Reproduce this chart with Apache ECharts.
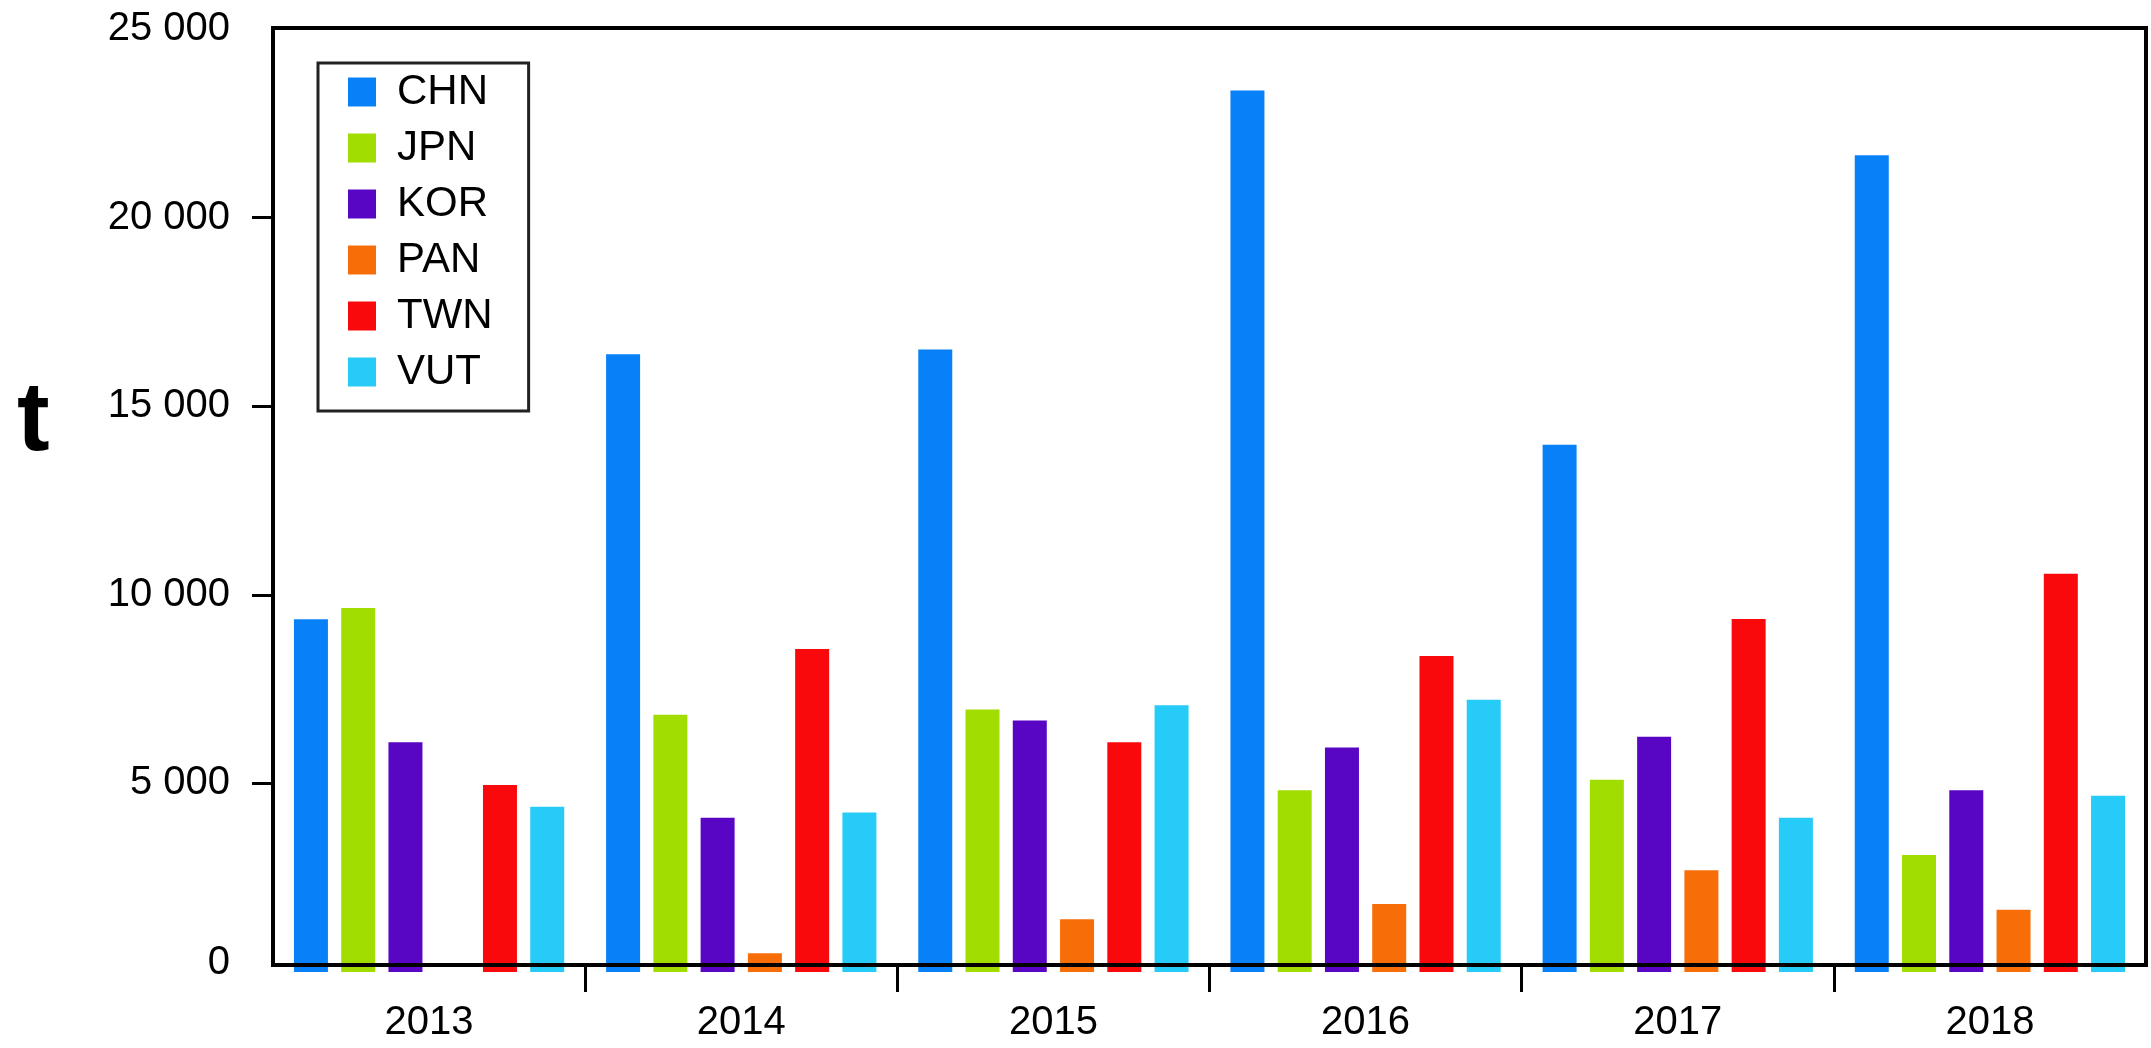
<!DOCTYPE html>
<html>
<head>
<meta charset="utf-8">
<script src="https://cdn.jsdelivr.net/npm/echarts@6/dist/echarts.min.js"></script>
<style>
  html, body { margin: 0; padding: 0; background: #fff; }
  #chart { width: 2151px; height: 1048px; }
</style>
</head>
<body>
<div id="chart"></div>
<script>
'use strict';

const years = ['2013', '2014', '2015', '2016', '2017', '2018'];
const chn = [9350, 16380, 16500, 23370, 13980, 21650];
const jpn = [9650, 6820, 6960, 4820, 5100, 3100];
const kor = [6090, 4090, 6670, 5950, 6240, 4820];
const pan = [0, 500, 1400, 1800, 2700, 1650];
const twn = [4960, 8560, 6090, 8380, 9360, 10560];
const vut = [4380, 4230, 7070, 7220, 4090, 4670];
const yTicks = [0, 5000, 10000, 15000, 20000, 25000];
const yearEdges = [1, 2, 3, 4, 5];

const font = 'Liberation Sans, Arial, sans-serif';

function spaced(v) {
    const s = String(v).replace(/\B(?=(\d{3})+(?!\d))/g, ' ');
    // the zero label sits a little above the real zero in the original
    return v === 0 ? '{z|' + s + '}' : s;
}

function bar(name, data, color) {
    return {
        name: name,
        type: 'bar',
        data: data,
        barWidth: 34,
        barGap: '39%',
        itemStyle: { color: color },
        emphasis: { disabled: true }
    };
}

const chartDom = document.getElementById('chart');
const myChart = echarts.init(chartDom);

const option = {
    animation: false,
    backgroundColor: '#fff',
    title: {
        text: 't',
        left: 12,
        top: 369,
        textStyle: { fontSize: 98, fontWeight: 'bold', color: '#000', fontFamily: font }
    },
    legend: {
        orient: 'vertical',
        left: 318,
        top: 63,
        padding: [8, 36, 18, 30],
        itemWidth: 28,
        itemHeight: 29,
        itemGap: 14,
        icon: 'rect',
        selectedMode: false,
        borderColor: '#222',
        borderWidth: 3,
        textStyle: { fontSize: 42, color: '#000', fontFamily: font, padding: [0, 0, 0, 16] }
    },
    grid: [
        // plot area: real zero sits just under the frame line
        { left: 273, right: 5, top: 29, bottom: 76 },
        // frame
        {
            left: 273, right: 5, top: 28, bottom: 83,
            show: true, borderColor: '#000', borderWidth: 4, z: 5
        }
    ],
    xAxis: [
        {
            type: 'category',
            gridIndex: 0,
            data: years,
            axisLine: { show: false },
            axisTick: { show: false },
            axisLabel: { fontSize: 40, color: '#000', fontFamily: font, margin: 31 }
        },
        {
            type: 'value',
            gridIndex: 1,
            position: 'bottom',
            min: 0,
            max: 6,
            interval: 1,
            axisLine: { show: false },
            axisLabel: { show: false },
            splitLine: { show: false },
            axisTick: {
                show: true,
                length: 27,
                customValues: yearEdges,
                lineStyle: { color: '#000', width: 3 }
            }
        }
    ],
    yAxis: [
        {
            type: 'value',
            gridIndex: 0,
            min: yTicks[0],
            max: yTicks[yTicks.length - 1],
            interval: 5000,
            axisLine: { show: false },
            splitLine: { show: false },
            axisTick: {
                show: true,
                length: 21,
                customValues: yTicks.slice(1, -1),
                lineStyle: { color: '#000', width: 3 }
            },
            axisLabel: {
                fontSize: 40,
                color: '#000',
                fontFamily: font,
                margin: 43,
                formatter: spaced,
                rich: {
                    z: { fontSize: 40, color: '#000', fontFamily: font, padding: [0, 0, 18, 0] }
                }
            }
        },
        {
            type: 'value',
            gridIndex: 1,
            show: false
        }
    ],
    series: [
        bar('CHN', chn, '#0880F8'),
        bar('JPN', jpn, '#A2DD02'),
        bar('KOR', kor, '#5805C4'),
        bar('PAN', pan, '#F76E08'),
        bar('TWN', twn, '#F9090B'),
        bar('VUT', vut, '#26CBF8')
    ]
};

myChart.setOption(option);
window.addEventListener('resize', function () {
    myChart.resize();
});
</script>
</body>
</html>
